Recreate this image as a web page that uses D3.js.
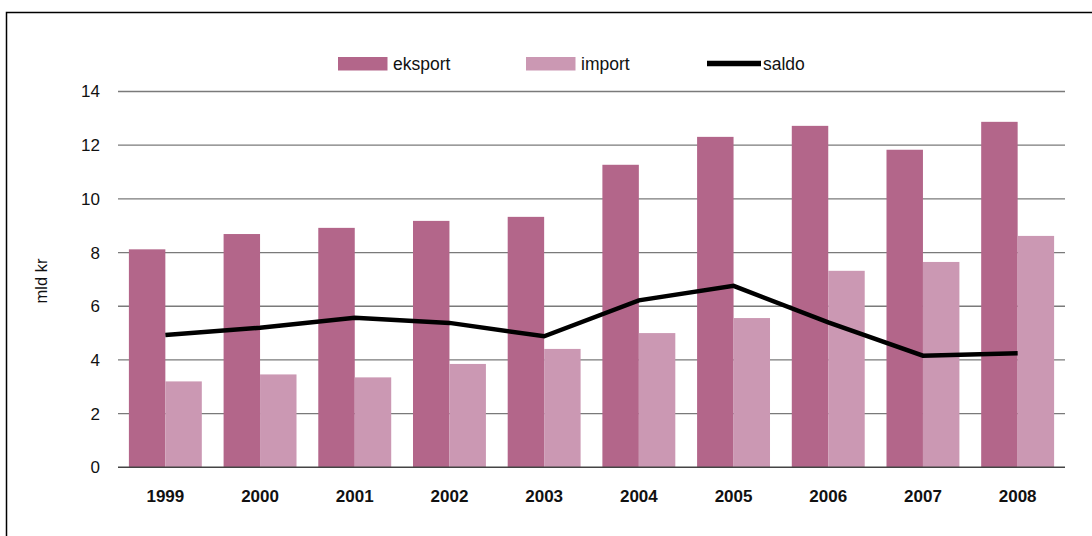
<!DOCTYPE html>
<html>
<head>
<meta charset="utf-8">
<script src="https://cdn.jsdelivr.net/npm/d3@7"></script>
<style>
  html, body { margin: 0; padding: 0; background: #fff; }
  svg { display: block; font-family: "Liberation Sans", Arial, Helvetica, sans-serif; }
</style>
</head>
<body>
<svg id="chart" width="1092" height="536"></svg>
<script>
const years = ["1999","2000","2001","2002","2003","2004","2005","2006","2007","2008"];
const eksport = [8.12, 8.69, 8.92, 9.18, 9.33, 11.27, 12.31, 12.72, 11.83, 12.87];
const importVals = [3.2, 3.46, 3.35, 3.85, 4.41, 5.0, 5.56, 7.32, 7.65, 8.62];
const saldo = [4.93, 5.2, 5.57, 5.38, 4.88, 6.22, 6.76, 5.4, 4.16, 4.25];
const yTicks = [0, 2, 4, 6, 8, 10, 12, 14];
const seriesNames = ["eksport", "import", "saldo"];
const colors = { eksport: "#b3668a", import: "#cb98b3", saldo: "#000000" };

(function () {
const svg = d3.select("#chart");
const mLeft = 118, mRight = 1065, mTop = 91.5, mBottom = 467.3;

// frame
svg.append("rect").attr("x", 6.5).attr("y", 12.5).attr("width", 1200).attr("height", 700)
  .attr("fill", "none").attr("stroke", "#000").attr("stroke-width", 1.5);

const x0 = d3.scaleBand().domain(years).range([mLeft, mRight]).paddingInner(0.23).paddingOuter(0.115);
const x1 = d3.scaleBand().domain(["eksport", "import"]).range([0, x0.bandwidth()]);
const y = d3.scaleLinear().domain([0, 14]).range([mBottom, mTop]);

// gridlines
svg.append("g").selectAll("line").data(yTicks.filter(d => d > 0)).join("line")
  .attr("x1", mLeft).attr("x2", mRight)
  .attr("y1", d => y(d)).attr("y2", d => y(d))
  .attr("stroke", "#7a7a7a").attr("stroke-width", 1.3);

// y axis labels
const yAxis = d3.axisLeft(y).tickValues(yTicks).tickSize(0).tickPadding(18).tickFormat(d3.format("d"));
const ya = svg.append("g").attr("transform", `translate(${mLeft},0)`).call(yAxis);
ya.select(".domain").remove();
ya.selectAll("text").attr("font-size", 17).attr("fill", "#111")
  .attr("font-family", "'Liberation Sans', Arial, sans-serif");

// bars
const g = svg.append("g");
years.forEach((yr, i) => {
  const gx = x0(yr);
  g.append("rect").attr("x", gx + x1("eksport")).attr("width", x1.bandwidth())
    .attr("y", y(eksport[i])).attr("height", y(0) - y(eksport[i])).attr("fill", colors.eksport);
  g.append("rect").attr("x", gx + x1("import")).attr("width", x1.bandwidth())
    .attr("y", y(importVals[i])).attr("height", y(0) - y(importVals[i])).attr("fill", colors.import);
});

// zero axis line
svg.append("line").attr("x1", mLeft).attr("x2", mRight).attr("y1", y(0)).attr("y2", y(0))
  .attr("stroke", "#444").attr("stroke-width", 1.5);

// x axis labels
const xAxis = d3.axisBottom(x0).tickSize(0).tickPadding(23);
const xa = svg.append("g").attr("transform", `translate(0,${y(0)})`).call(xAxis);
xa.select(".domain").remove();
xa.selectAll("text").attr("font-size", 17).attr("font-weight", "bold").attr("fill", "#111")
  .attr("font-family", "'Liberation Sans', Arial, sans-serif");

// saldo line
const line = d3.line().x((d, i) => x0(years[i]) + x0.bandwidth() / 2).y(d => y(d));
svg.append("path").datum(saldo).attr("d", line).attr("fill", "none")
  .attr("stroke", colors.saldo).attr("stroke-width", 4.5).attr("stroke-linejoin", "miter");

// y-axis title
svg.append("text").attr("transform", "translate(47,281) rotate(-90)")
  .attr("text-anchor", "middle").attr("font-size", 16.5).attr("fill", "#111").text("mld kr");

// legend
const legend = svg.append("g");
const legItems = [
  { name: "eksport", x: 338, type: "rect" },
  { name: "import", x: 526, type: "rect" },
  { name: "saldo", x: 707, type: "line" }
];
legItems.forEach(it => {
  if (it.type === "rect") {
    legend.append("rect").attr("x", it.x).attr("y", 57).attr("width", 49.5).attr("height", 13.5)
      .attr("fill", colors[it.name]);
    legend.append("text").attr("x", it.x + 55).attr("y", 69.5).attr("font-size", 17.5)
      .attr("fill", "#111").text(it.name);
  } else {
    legend.append("line").attr("x1", it.x).attr("x2", it.x + 54).attr("y1", 63.5).attr("y2", 63.5)
      .attr("stroke", colors.saldo).attr("stroke-width", 5.5);
    legend.append("text").attr("x", it.x + 56).attr("y", 69.5).attr("font-size", 17.5)
      .attr("fill", "#111").text(it.name);
  }
});
})();
</script>
</body>
</html>
